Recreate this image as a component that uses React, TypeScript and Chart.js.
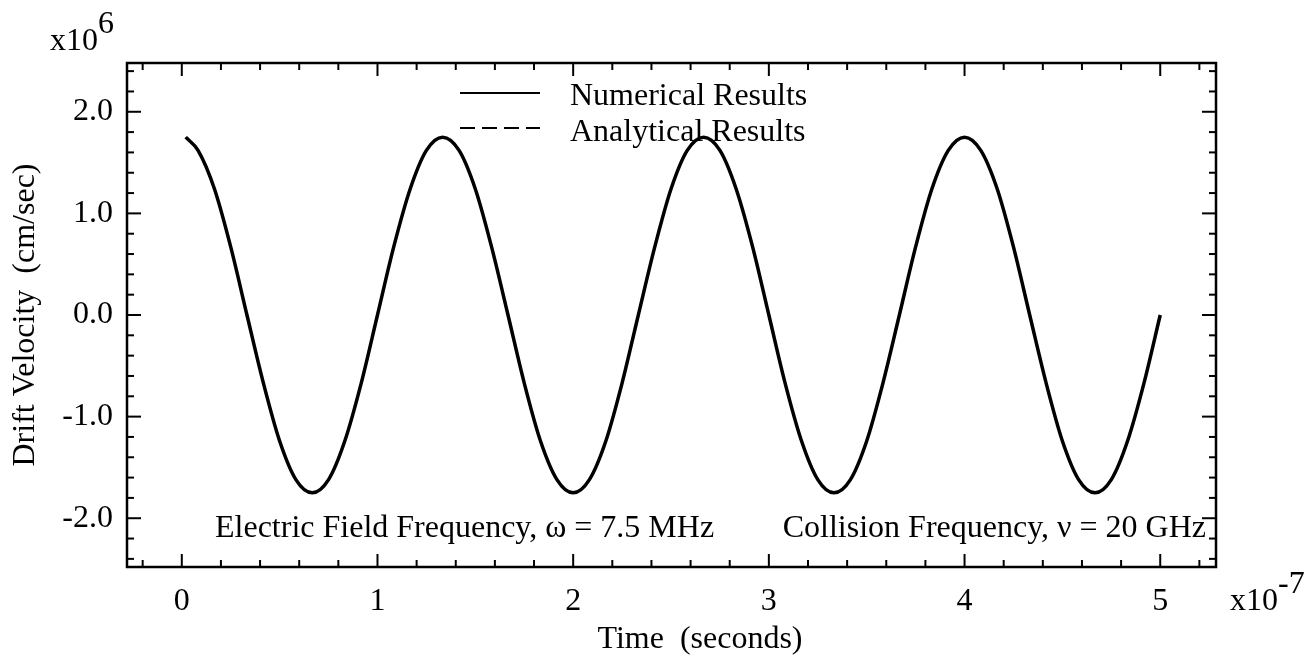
import React, { useEffect, useRef } from 'react';
import { Chart, registerables } from 'chart.js';

Chart.register(...registerables);

// Time in units of 1e-7 s
const timeValues = [
  0.02, 0.083, 0.167, 0.25, 0.333, 0.417, 0.5, 0.583, 0.667, 0.75, 0.833, 0.917,
  1.0, 1.083, 1.167, 1.25, 1.333, 1.417, 1.5, 1.583, 1.667, 1.75, 1.833, 1.917,
  2.0, 2.083, 2.167, 2.25, 2.333, 2.417, 2.5, 2.583, 2.667, 2.75, 2.833, 2.917,
  3.0, 3.083, 3.167, 3.25, 3.333, 3.417, 3.5, 3.583, 3.667, 3.75, 3.833, 3.917,
  4.0, 4.083, 4.167, 4.25, 4.333, 4.417, 4.5, 4.583, 4.667, 4.75, 4.833, 4.917,
  5.0,
];

// Drift velocity in units of 1e6 cm/sec
const velocityValues = [
  1.75, 1.62, 1.24, 0.67, 0.0, -0.67, -1.24, -1.62, -1.75, -1.62, -1.24, -0.67,
  0.0, 0.67, 1.24, 1.62, 1.75, 1.62, 1.24, 0.67, 0.0, -0.67, -1.24, -1.62,
  -1.75, -1.62, -1.24, -0.67, 0.0, 0.67, 1.24, 1.62, 1.75, 1.62, 1.24, 0.67,
  0.0, -0.67, -1.24, -1.62, -1.75, -1.62, -1.24, -0.67, 0.0, 0.67, 1.24, 1.62,
  1.75, 1.62, 1.24, 0.67, 0.0, -0.67, -1.24, -1.62, -1.75, -1.62, -1.24, -0.67,
  0.0,
];

const xTickValues = [0, 1, 2, 3, 4, 5];
const yTickValues = [-2, -1, 0, 1, 2];
const legendLabels = ['Numerical Results', 'Analytical Results'];
const annotationLeft = 'Electric Field Frequency, \u03c9 = 7.5 MHz';
const annotationRight = 'Collision Frequency, \u03bd = 20 GHz';
const xTitle = 'Time  (seconds)';
const yTitle = 'Drift Velocity  (cm/sec)';
const yExponent = ['x10', '6'];
const xExponent = ['x10', '-7'];

const FONT = '"Liberation Serif", "Times New Roman", serif';
const FS = 32;

const framePlugin = {
  id: 'framePlugin',
  afterDraw(chart: any) {
    const { ctx, chartArea: a, scales } = chart;
    const xs = scales.x;
    const ys = scales.y;
    ctx.save();
    ctx.strokeStyle = '#000';
    ctx.fillStyle = '#000';
    ctx.lineCap = 'butt';
    const line = (x1: number, y1: number, x2: number, y2: number) => {
      ctx.beginPath();
      ctx.moveTo(x1, y1);
      ctx.lineTo(x2, y2);
      ctx.stroke();
    };
    // tick marks (inside, all four sides)
    ctx.lineWidth = 2;
    const step = 0.2;
    for (let k = Math.ceil(xs.min / step - 1e-9); k * step <= xs.max + 1e-9; k++) {
      const px = xs.getPixelForValue(k * step);
      const len = k % 5 === 0 ? 13 : 7;
      line(px, a.bottom, px, a.bottom - len);
      line(px, a.top, px, a.top + len);
    }
    for (let k = Math.ceil(ys.min / step - 1e-9); k * step <= ys.max + 1e-9; k++) {
      const py = ys.getPixelForValue(k * step);
      const len = k % 5 === 0 ? 14 : 7;
      line(a.left, py, a.left + len, py);
      line(a.right, py, a.right - len, py);
    }
    // frame
    ctx.lineWidth = 2.5;
    ctx.strokeRect(a.left, a.top, a.right - a.left, a.bottom - a.top);

    // legend
    ctx.lineWidth = 2;
    line(460, 93, 540, 93);
    ctx.setLineDash([15, 7]);
    line(460, 128, 540, 128);
    ctx.setLineDash([]);
    ctx.font = `${FS}px ${FONT}`;
    ctx.textBaseline = 'alphabetic';
    ctx.textAlign = 'left';
    ctx.fillText(legendLabels[0], 570, 105);
    ctx.fillText(legendLabels[1], 570, 141);

    // annotations
    ctx.fillText(annotationLeft, 215, 537);
    ctx.textAlign = 'right';
    ctx.fillText(annotationRight, 1206, 537);

    // x axis title
    ctx.textAlign = 'center';
    ctx.textBaseline = 'middle';
    ctx.fillText(xTitle, 700, 640);

    // exponents
    ctx.textAlign = 'left';
    ctx.textBaseline = 'alphabetic';
    ctx.fillText(yExponent[0], 50, 50);
    ctx.fillText(yExponent[1], 98, 33);
    ctx.fillText(xExponent[0], 1230, 610);
    ctx.fillText(xExponent[1], 1278, 593);
    ctx.restore();
  },
};

export default function App() {
  const canvasRef = useRef<HTMLCanvasElement | null>(null);

  useEffect(() => {
    if (!canvasRef.current) return;
    Chart.defaults.font.family = FONT;
    const chart = new Chart(canvasRef.current, {
      type: 'line',
      data: {
        datasets: [
          {
            label: legendLabels[0],
            data: timeValues.map((t, i) => ({ x: t, y: velocityValues[i] })),
            borderColor: '#000',
            borderWidth: 3.5,
            pointRadius: 0,
            fill: false,
            cubicInterpolationMode: 'monotone',
          },
        ],
      },
      options: {
        animation: false,
        responsive: false,
        layout: { padding: { left: 0, top: 63, right: 90, bottom: 0 } },
        plugins: { legend: { display: false }, tooltip: { enabled: false } },
        scales: {
          x: {
            type: 'linear',
            min: -0.28,
            max: 5.285,
            afterBuildTicks: (s: any) => {
              s.ticks = xTickValues.map((v) => ({ value: v }));
            },
            afterFit: (s: any) => {
              s.height = 95;
            },
            grid: { display: false, drawTicks: false },
            border: { display: false },
            ticks: {
              autoSkip: false,
              maxRotation: 0,
              padding: 15,
              color: '#000',
              font: { family: FONT, size: FS },
              callback: (v: any) => String(v),
            },
            title: { display: false, text: xTitle },
          },
          y: {
            type: 'linear',
            min: -2.48,
            max: 2.48,
            afterBuildTicks: (s: any) => {
              s.ticks = yTickValues.map((v) => ({ value: v }));
            },
            afterFit: (s: any) => {
              s.width = 127;
            },
            grid: { display: false, drawTicks: false },
            border: { display: false },
            ticks: {
              autoSkip: false,
              padding: 14,
              color: '#000',
              font: { family: FONT, size: FS },
              callback: (v: any) => Number(v).toFixed(1),
            },
            title: {
              display: true,
              text: yTitle,
              color: '#000',
              font: { family: FONT, size: FS },
              padding: { top: 6, bottom: 0 },
            },
          },
        },
      },
      plugins: [framePlugin],
    } as any);
    return () => chart.destroy();
  }, []);

  return (
    <div style={{ position: 'absolute', left: 0, top: 0, width: 1306, height: 662, background: '#fff' }}>
      <canvas ref={canvasRef} width={1306} height={662} style={{ display: 'block' }} />
    </div>
  );
}
